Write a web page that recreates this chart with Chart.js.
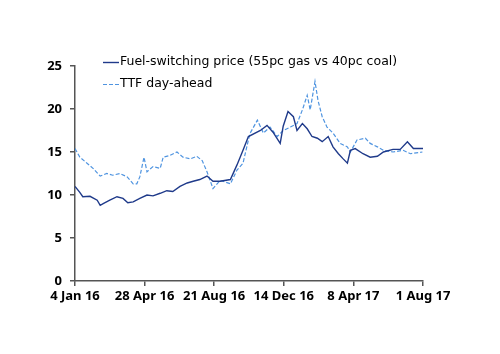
<!DOCTYPE html>
<html>
<head>
<meta charset="utf-8">
<script src="https://cdn.jsdelivr.net/npm/chart.js@4/dist/chart.umd.min.js"></script>
<style>
  html, body { margin: 0; padding: 0; background: #fff; }
  #wrap { width: 500px; height: 354px; }
</style>
</head>
<body>
<div id="wrap"><canvas id="chart" width="500" height="354"></canvas></div>
<script>
/*--------------------DATA--------------------*/
// x = days since 4 Jan 16
let tickLabels = ['4 Jan 16', '28 Apr 16', '21 Aug 16', '14 Dec 16', '8 Apr 17', '1 Aug 17'];

let fuelDays = [0, 8, 13, 25, 37, 42, 47, 58, 70, 80, 88, 97, 108, 120, 130, 142, 153, 163, 175, 187,
    197, 208, 220, 230, 242, 259, 270, 280, 289, 309, 320, 330, 342, 347, 355, 364, 370, 379, 387, 395,
    404, 412, 422, 430, 439, 447, 454, 459, 467, 480, 492, 504, 514, 530, 542, 554, 564, 580];
let fuelValues = [11.0, 10.3, 9.8, 9.85, 9.4, 8.8, 9.0, 9.4, 9.8, 9.6, 9.1, 9.2, 9.6, 10.0, 9.9, 10.2, 10.5, 10.4, 11.0, 11.4,
    11.6, 11.8, 12.2, 11.6, 11.6, 11.8, 13.5, 15.2, 16.8, 17.5, 18.1, 17.3, 16.0, 18.0, 19.7, 19.1, 17.5, 18.3, 17.7, 16.8,
    16.6, 16.2, 16.8, 15.6, 14.8, 14.2, 13.7, 15.2, 15.4, 14.8, 14.4, 14.5, 15.0, 15.3, 15.3, 16.2, 15.4, 15.4];

let ttfDays = [0, 8, 20, 30, 42, 53, 63, 75, 87, 97, 103, 108, 115, 120, 130, 142, 147, 158, 170, 180,
    192, 203, 212, 220, 230, 242, 259, 270, 280, 289, 292, 304, 314, 325, 337, 347, 359, 370, 379, 387,
    392, 400, 405, 412, 420, 430, 442, 454, 459, 470, 484, 492, 504, 514, 530, 547, 559, 579];
let ttfValues = [15.4, 14.4, 13.7, 13.1, 12.2, 12.5, 12.3, 12.5, 12.1, 11.3, 11.3, 12.1, 14.4, 12.7, 13.3, 13.1, 14.4, 14.6, 15.0, 14.4,
    14.2, 14.5, 14.0, 12.7, 10.75, 11.7, 11.3, 12.9, 13.7, 16.4, 17.2, 18.7, 17.2, 17.9, 16.8, 17.5, 17.9, 18.3, 19.9, 21.6,
    19.9, 23.2, 21.0, 19.1, 17.9, 17.2, 16.0, 15.6, 15.0, 16.4, 16.6, 16.0, 15.6, 15.2, 15.0, 15.2, 14.8, 15.0];

/*--------------------CHART--------------------*/
Chart.defaults.font.family = '"Noto Sans", "DejaVu Sans", sans-serif';
Chart.defaults.font.size = 13;
Chart.defaults.color = '#000';

function toPoints(xs, ys) {
    return xs.map((x, i) => ({ x: x, y: ys[i] }));
}

// legend drawn inside the plot, top-left
let insideLegend = {
    id: 'insideLegend',
    afterDraw(chart) {
        let ctx = chart.ctx;
        let x0 = 103, rows = [62, 84];
        ctx.save();
        ctx.font = '12.5px "DejaVu Sans", sans-serif';
        ctx.textBaseline = 'middle';
        chart.data.datasets.forEach((ds, i) => {
            let y = rows[i];
            ctx.strokeStyle = ds.borderColor;
            ctx.lineWidth = ds.borderWidth;
            ctx.setLineDash(ds.borderDash || []);
            ctx.beginPath();
            ctx.moveTo(x0, y + 0.5);
            ctx.lineTo(x0 + 16, y + 0.5);
            ctx.stroke();
            ctx.setLineDash([]);
            ctx.fillStyle = '#000';
            ctx.fillText(ds.label, x0 + 17, y);
        });
        ctx.restore();
    }
};

let tickFont = { weight: 'bold', size: 13 };

let chartCanvas = document.getElementById('chart');
let lineChart = new Chart(chartCanvas, {
    type: 'line',
    data: {
        datasets: [
            {
                label: 'Fuel-switching price (55pc gas vs 40pc coal)',
                data: toPoints(fuelDays, fuelValues),
                borderColor: '#1f3a8a',
                borderWidth: 1.4,
                pointRadius: 0,
                tension: 0
            },
            {
                label: 'TTF day-ahead',
                data: toPoints(ttfDays, ttfValues),
                borderColor: '#4f94e0',
                borderWidth: 1.2,
                borderDash: [4, 2],
                pointRadius: 0,
                tension: 0
            }
        ]
    },
    options: {
        responsive: false,
        animation: false,
        layout: { padding: { left: 0, right: 77, top: 66, bottom: 33 } },
        plugins: {
            legend: { display: false },
            tooltip: { enabled: false }
        },
        scales: {
            x: {
                type: 'linear',
                min: 0,
                max: 580,
                afterFit: (s) => { s.height = 40; },
                afterBuildTicks: (s) => { s.ticks = tickLabels.map((t, i) => ({ value: i * 116 })); },
                ticks: {
                    font: tickFont,
                    padding: 2,
                    maxRotation: 0,
                    autoSkip: false,
                    callback: (v) => tickLabels[Math.round(v / 116)]
                },
                grid: { display: true, drawOnChartArea: false, drawTicks: true, tickLength: 5, color: '#555', lineWidth: 1.5 },
                border: { display: true, color: '#555', width: 1.5 }
            },
            y: {
                min: 0,
                max: 25,
                afterFit: (s) => { s.width = 75; },
                ticks: { stepSize: 5, padding: 8, font: tickFont },
                grid: { display: true, drawOnChartArea: false, drawTicks: true, tickLength: 5, color: '#555', lineWidth: 1.5 },
                border: { display: true, color: '#555', width: 1.5 }
            }
        }
    },
    plugins: [insideLegend]
});
</script>
</body>
</html>
